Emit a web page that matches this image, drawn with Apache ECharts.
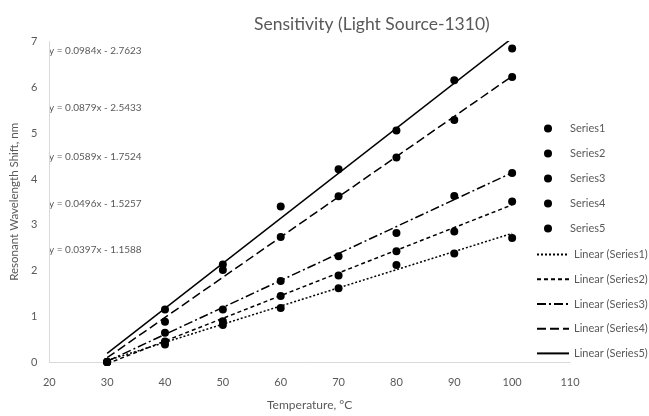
<!DOCTYPE html>
<html><head><meta charset="utf-8">
<script src="https://cdn.jsdelivr.net/npm/echarts@6/dist/echarts.min.js"></script>
<style>html,body{margin:0;padding:0;background:#fff}#c{width:649px;height:416px}</style>
</head><body><div id="c"></div>
<script>
const temps = [30, 40, 50, 60, 70, 80, 90, 100];
const series1 = [0, 0.38, 0.81, 1.18, 1.61, 2.12, 2.37, 2.71];
const series2 = [0, 0.45, 0.89, 1.44, 1.89, 2.42, 2.85, 3.51];
const series3 = [0, 0.64, 1.15, 1.77, 2.31, 2.82, 3.63, 4.13];
const series4 = [0, 0.88, 2.01, 2.73, 3.62, 4.47, 5.29, 6.23];
const series5 = [0, 1.15, 2.13, 3.40, 4.21, 5.06, 6.16, 6.85];
const seriesNames = ['Series1', 'Series2', 'Series3', 'Series4', 'Series5'];
const slopes = [0.0397, 0.0496, 0.0589, 0.0879, 0.0984];
const intercepts = [-1.1588, -1.5257, -1.7524, -2.5433, -2.7623];
const equations = ['y = 0.0984x - 2.7623', 'y = 0.0879x - 2.5433', 'y = 0.0589x - 1.7524', 'y = 0.0496x - 1.5257', 'y = 0.0397x - 1.1588'];
const xTicks = [20, 30, 40, 50, 60, 70, 80, 90, 100, 110];
const yTicks = [0, 1, 2, 3, 4, 5, 6, 7];

const allVals = [series1, series2, series3, series4, series5];
const dashes = [[2, 2], [4, 3], [9, 3, 2, 3], [9, 4], 'solid'];
const FONT = 'Lato';
const GREY = '#595959';

const series = [];
allVals.forEach((vals, i) => {
  series.push({
    name: seriesNames[i], type: 'scatter', symbol: 'circle', symbolSize: 8,
    itemStyle: { color: '#000', opacity: 1 }, z: 3,
    data: temps.map((t, k) => [t, vals[k]])
  });
});
allVals.forEach((vals, i) => {
  const x0 = temps[0], x1 = temps[temps.length - 1];
  series.push({
    name: 'Linear (' + seriesNames[i] + ')', type: 'line', symbol: 'none', showSymbol: false,
    lineStyle: { color: '#000', width: 1.5, type: dashes[i] },
    itemStyle: { color: '#000' },
    data: [[x0, slopes[i] * x0 + intercepts[i]], [x1, slopes[i] * x1 + intercepts[i]]]
  });
});

const eqTops = [52, 109, 158, 205, 251];
const graphics = equations.map((e, i) => ({
  type: 'text', left: 49, top: eqTops[i] - 6,
  style: { text: e, fill: GREY, font: '10px ' + FONT }
}));

const chart = echarts.init(document.getElementById('c'));
chart.setOption({
  animation: false,
  backgroundColor: '#fff',
  title: { text: 'Sensitivity (Light Source-1310)', left: 249, top: 10,
    textStyle: { fontFamily: FONT, fontSize: 17.5, fontWeight: 'normal', color: GREY } },
  grid: { left: 44, right: 79, top: 41.7, bottom: 46.5, containLabel: false },
  xAxis: {
    type: 'value', min: xTicks[0], max: xTicks[xTicks.length - 1], interval: 10,
    name: 'Temperature, °C', nameLocation: 'middle', nameGap: 37,
    nameTextStyle: { fontFamily: FONT, fontSize: 12, color: GREY },
    axisLine: { show: true, lineStyle: { color: '#d9d9d9', width: 1 } },
    axisTick: { show: false }, splitLine: { show: false },
    axisLabel: { fontFamily: FONT, fontSize: 11, color: GREY, margin: 15 }
  },
  yAxis: {
    type: 'value', min: yTicks[0], max: yTicks[yTicks.length - 1], interval: 1,
    name: 'Resonant Wavelength Shift, nm', nameLocation: 'middle', nameGap: 26,
    nameTextStyle: { fontFamily: FONT, fontSize: 11.5, color: GREY },
    axisLine: { show: true, lineStyle: { color: '#d9d9d9', width: 1 } },
    axisTick: { show: false }, splitLine: { show: false },
    axisLabel: { fontFamily: FONT, fontSize: 11, color: GREY, margin: 12 }
  },
  legend: [
    { data: seriesNames, orient: 'vertical', left: 539, top: 118, itemWidth: 8, itemHeight: 8,
      itemGap: 14, icon: 'circle', itemStyle: { color: '#000', opacity: 1 },
      textStyle: { fontFamily: FONT, fontSize: 11, color: GREY, padding: [0, 0, 0, 13] } },
    { data: seriesNames.map(n => 'Linear (' + n + ')'), orient: 'vertical', left: 531, top: 244,
      itemWidth: 32, itemHeight: 14, itemGap: 13.5,
      itemStyle: { opacity: 0 },
      textStyle: { fontFamily: FONT, fontSize: 11, color: GREY } }
  ],
  graphic: graphics,
  series: series
});
</script></body></html>
